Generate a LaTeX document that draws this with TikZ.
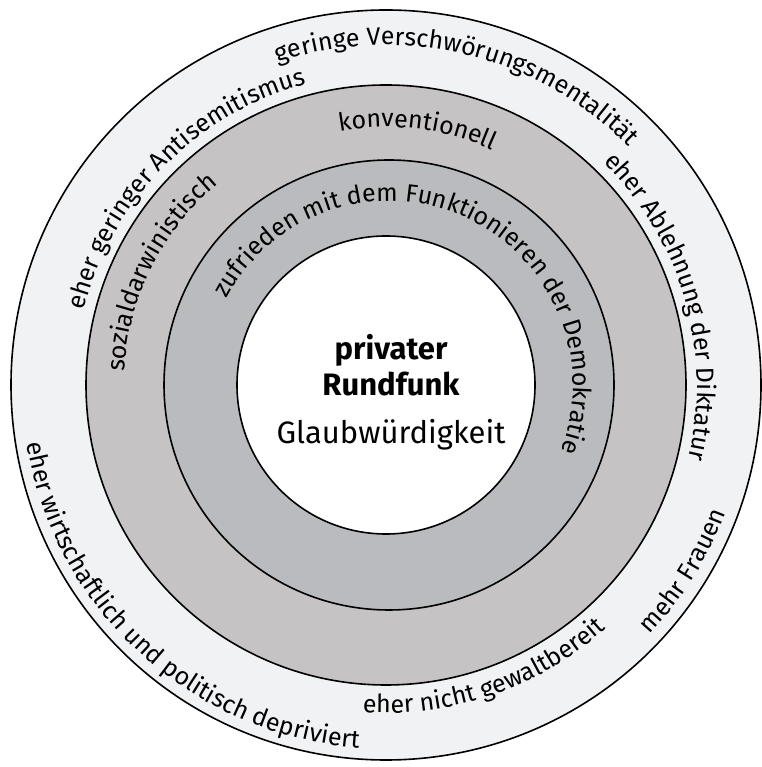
\documentclass[tikz,border=0pt]{standalone}
\usepackage{fontspec}
\setmainfont{Fira Sans}
\usetikzlibrary{decorations.text}
\definecolor{outerring}{HTML}{F1F2F4}
\definecolor{middlering}{HTML}{C5C3C4}
\definecolor{innerring}{HTML}{BABBBF}
\newcommand{\ringfont}{\fontsize{25}{30}\selectfont}
\tikzset{
    %Define style for the rings
    ring/.style={
           draw=black,
           line width=1.6pt},
    %Define style for text on the rings
    ringtext/.style={
           decorate,
           decoration={text along path,
                       text align=center,
                       text={|\ringfont|#1}}},
    %Define style for the centre labels
    title/.style={
           font=\fontsize{31}{36}\selectfont\bfseries,
           anchor=base},
    subtitle/.style={
           font=\fontsize{31}{36}\selectfont,
           anchor=base}
}
\begin{document}
\begin{tikzpicture}[x=1pt,y=1pt]
\useasboundingbox (0,0) rectangle (761,767);
\coordinate (c) at (386,382);
\coordinate (c3) at (389,382);
% rings
\filldraw[ring, fill=outerring] (c) circle[radius=375];
\filldraw[ring, fill=middlering] (c) circle[radius=300];
\filldraw[ring, fill=innerring] (c3) circle[radius=225];
\filldraw[ring, fill=white] (c) circle[radius=149];
% outer ring, top
\path[ringtext={geringe Verschwörungsmentalität}]
	(c) ++(118:340) arc[start angle=118, end angle=35, radius=340];
\path[ringtext={eher geringer Antisemitismus}]
	(c) ++(178:311) arc[start angle=178, end angle=93, radius=311];
\path[ringtext={eher Ablehnung der Diktatur}]
	(c) ++(62:311) arc[start angle=62, end angle=-30, radius=311];
% outer ring, bottom
\path[ringtext={mehr Frauen}]
	(c) ++(-52:363) arc[start angle=-52, end angle=-12, radius=363];
\path[ringtext={eher nicht gewaltbereit}]
	(c) ++(-104:328) arc[start angle=-104, end angle=-38, radius=328];
\path[ringtext={eher wirtschaftlich und politisch depriviert}]
	(c) ++(176:364) arc[start angle=176, end angle=279, radius=364];
% middle ring
\path[ringtext={konventionell}]
	(c) ++(113:258) arc[start angle=113, end angle=53, radius=258];
\path[ringtext={sozialdarwinistisch}]
	(c) ++(188:262) arc[start angle=188, end angle=119, radius=262];
% inner ring
\path[ringtext={zufrieden mit dem Funktionieren der Demokratie}]
	(c3) ++(165:184) arc[start angle=165, end angle=-34, radius=184];
% centre
\node[title] (priv) at (391,407) {privater};
\node[title] (rund) at ([yshift=-36pt]priv.base) {Rundfunk};
\node[subtitle] (glaub) at ([yshift=-48pt]rund.base) {Glaubwürdigkeit};
\end{tikzpicture}
\end{document}
